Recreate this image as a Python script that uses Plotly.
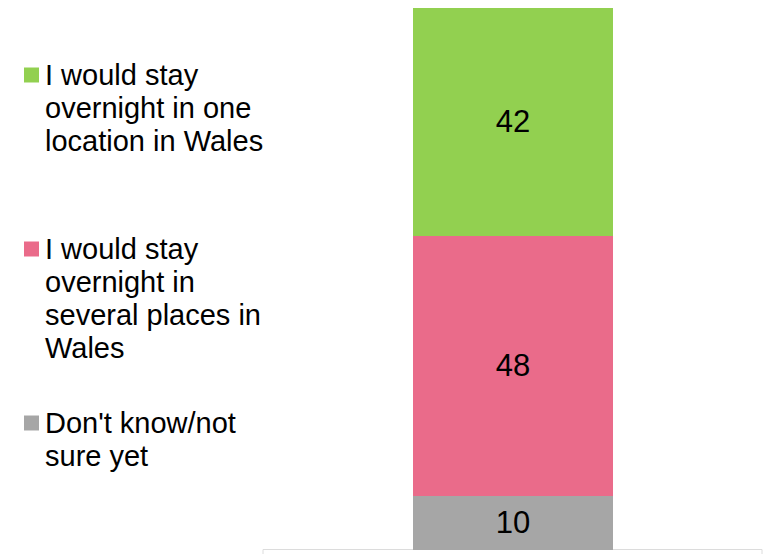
import plotly.graph_objects as go

# Survey answer shares (percent), stacked bottom to top
categories = ["I would stay overnight in one location in Wales",
              "I would stay overnight in several places in Wales",
              "Don't know/not sure yet"]
legend_lines = [["I would stay", "overnight in one", "location in Wales"],
                ["I would stay", "overnight in", "several places in", "Wales"],
                ["Don't know/not", "sure yet"]]
values = [42, 48, 10]
colors = ["#92D050", "#EA6B8A", "#A6A6A6"]

W, H = 770, 554
MT, MB = 8, 4
plot_h = H - MT - MB
FONT = "Liberation Sans, Arial"

def py_to_paper(py):
    return (H - MB - py) / plot_h

fig = go.Figure()
# draw bottom segment first so the stack reads gray, pink, green from bottom
for name, val, col in reversed(list(zip(categories, values, colors))):
    fig.add_trace(go.Bar(
        x=[0], y=[val], name=name, marker=dict(color=col, line=dict(width=0)),
        width=1, text=[str(val)], textposition="inside",
        insidetextanchor="middle", textangle=0, constraintext="none",
        textfont=dict(size=31, color="black", family=FONT),
        showlegend=False, hoverinfo="name+y",
    ))

# Legend drawn as text lines with square swatches
first_line_y = [75, 249, 423]
line_step = 33
for lines, col, y0 in zip(legend_lines, colors, first_line_y):
    for i, line in enumerate(lines):
        fig.add_annotation(
            xref="paper", yref="paper", x=43 / W,
            y=py_to_paper(y0 + i * line_step),
            xanchor="left", yanchor="middle", align="left", showarrow=False,
            text=line, font=dict(size=29, color="black", family=FONT),
        )
    fig.add_shape(type="rect", xref="paper", yref="paper",
                  x0=24 / W, x1=39 / W,
                  y0=py_to_paper(y0 - 7.5), y1=py_to_paper(y0 + 7.5),
                  fillcolor=col, line=dict(width=0))

# faint outline of the panel below the bar
fig.add_shape(type="rect", xref="paper", yref="paper",
              x0=263 / W, x1=762 / W, y0=py_to_paper(549.5), y1=py_to_paper(560),
              fillcolor="rgba(0,0,0,0)", line=dict(color="#DCDCDC", width=1),
              layer="below")

fig.update_layout(
    width=W, height=H, barmode="stack",
    margin=dict(l=0, r=0, t=MT, b=MB),
    paper_bgcolor="white", plot_bgcolor="white",
    xaxis=dict(range=[-2.565, 1.285], visible=False, fixedrange=True),
    yaxis=dict(range=[0, 100], visible=False, fixedrange=True),
    font=dict(family=FONT),
)

fig.write_html("out.html")
